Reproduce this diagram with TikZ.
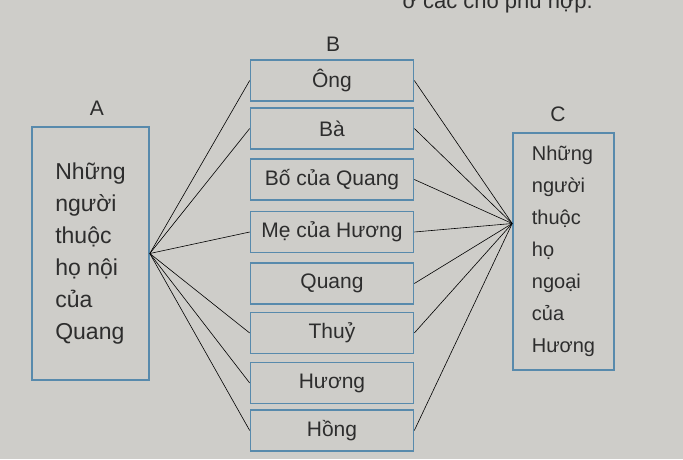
\documentclass[tikz,border=0pt]{standalone}
\usepackage{fontspec}
\setmainfont{Liberation Sans}
\usetikzlibrary{calc}
\definecolor{bg}{RGB}{206,205,201}
\definecolor{boxc}{RGB}{88,138,172}
\definecolor{ink}{RGB}{45,45,45}
\begin{document}
\begin{tikzpicture}[x=1pt,y=-1pt,
  bbox/.style={draw=boxc, line width=1.6pt, minimum width=163pt, minimum height=41pt, inner sep=0pt, font=\fontsize{21}{24}\selectfont, text=ink},
  bigbox/.style={draw=boxc, line width=1.6pt, inner sep=0pt, align=left, text=ink},
  lbl/.style={font=\fontsize{21}{24}\selectfont, text=ink},
  conn/.style={black, line width=0.6pt}]
\useasboundingbox (0,0) rectangle (683,459);
\fill[bg] (0,0) rectangle (683,459);
\begin{scope}
\clip (0,0) rectangle (683,459);
\node[anchor=base east, font=\fontsize{22}{24}\selectfont, text=ink, inner sep=0pt] (top) at (593,8) {ở các chỗ phù hợp.};
\end{scope}
% labels
\node[lbl] (la) at (97,108) {A};
\node[lbl] (lb) at (333,44) {B};
\node[lbl] (lc) at (558,114) {C};
% big boxes
\node[bigbox, minimum width=117pt, minimum height=253pt, font=\fontsize{23}{32}\selectfont] (A) at (90.5,253.5) {Những\\người\\thuộc\\họ nội\\của\\Quang};
\node[bigbox, minimum width=101pt, minimum height=237pt, font=\fontsize{20}{32}\selectfont] (C) at (563.5,251.5) {Những\\người\\thuộc\\họ\\ngoại\\của\\Hương};
% B column
\node[bbox] (ong) at (332,80.5) {Ông};
\node[bbox] (ba) at (332,128.5) {Bà};
\node[bbox] (bo) at (332,179.5) {Bố của Quang};
\node[bbox] (me) at (332,232) {Mẹ của Hương};
\node[bbox] (quang) at (332,283.5) {Quang};
\node[bbox] (thuy) at (332,333) {Thuỷ};
\node[bbox] (huong) at (332,383) {Hương};
\node[bbox] (hong) at (332,430.5) {Hồng};
\coordinate (cw) at ($(C.west)+(0,-28)$);
% connectors to A
\foreach \b in {ong,ba,me,thuy,huong,hong}
  \draw[conn] (A.east) -- (\b.west);
% connectors to C
\foreach \b in {ong,ba,bo,me,quang,thuy,hong}
  \draw[conn] (\b.east) -- (cw);
\end{tikzpicture}
\end{document}
